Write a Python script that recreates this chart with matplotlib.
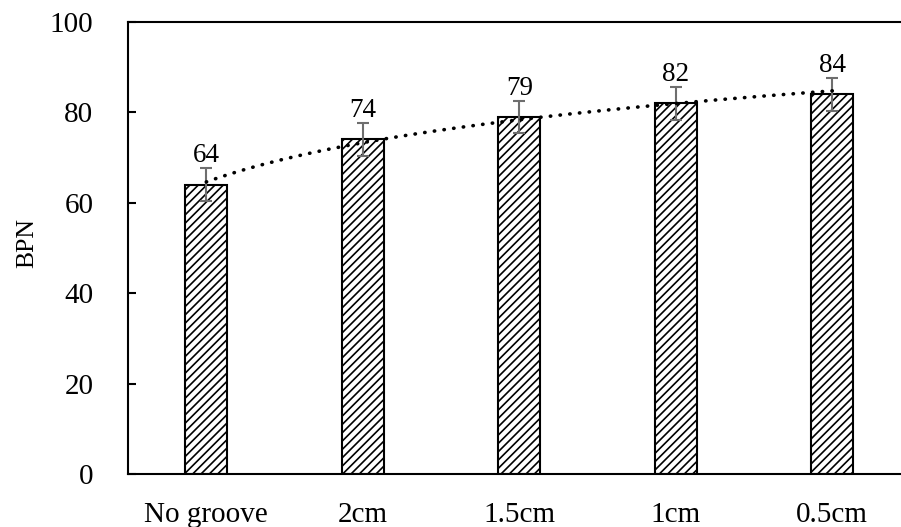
import numpy as np
import matplotlib
matplotlib.use("Agg")
import matplotlib.pyplot as plt

categories = ["No groove", "2cm", "1.5cm", "1cm", "0.5cm"]
bpn = [64, 74, 79, 82, 84]
bpn_err = [3.6, 3.6, 3.6, 3.7, 3.6]
y_ticks = [0, 20, 40, 60, 80, 100]

plt.rcParams["font.family"] = ["Liberation Serif", "DejaVu Serif"]
plt.rcParams["hatch.linewidth"] = 1.2
plt.rcParams["hatch.color"] = "black"

fig = plt.figure(figsize=(9.01, 5.27), dpi=100)
ax = fig.add_axes([0.1421, 0.1006, 0.8685, 0.8577])

x = np.arange(len(categories))
ax.bar(x, bpn, width=0.27, color="white", edgecolor="black",
       linewidth=1.5, hatch="////", zorder=2)
ax.errorbar(x, bpn, yerr=bpn_err, fmt="none", ecolor="#6e6e6e",
            elinewidth=1.5, capsize=4.5, capthick=1.5, zorder=3)

# Logarithmic trend line fitted to the bar values
coef = np.polyfit(np.log(x + 1), bpn, 1)
xs = np.linspace(0, len(categories) - 1, 200)
ax.plot(xs, coef[0] * np.log(xs + 1) + coef[1], color="black",
        linewidth=2.6, linestyle=(0, (0.1, 2.6)),
        dash_capstyle="round", zorder=4)

for xi, v, e in zip(x, bpn, bpn_err):
    ax.annotate(f"{v}", (xi, v + e), xytext=(0, 0), textcoords="offset points",
                ha="center", va="bottom", fontsize=19.5)

ax.set_xlim(-0.5, len(categories) - 0.5)
ax.set_ylim(0, 100)
ax.set_yticks(y_ticks)
ax.set_xticks(x)
ax.set_xticklabels(categories)
ax.tick_params(axis="y", direction="in", length=6, width=1.5,
               labelsize=21, pad=25)
ax.tick_params(axis="x", length=0, labelsize=21, pad=20)
for s in ax.spines.values():
    s.set_linewidth(1.5)
ax.set_ylabel("BPN", fontsize=18.5)
ax.yaxis.set_label_coords(-0.115, 0.511)

fig.savefig("out.png", dpi=100)
